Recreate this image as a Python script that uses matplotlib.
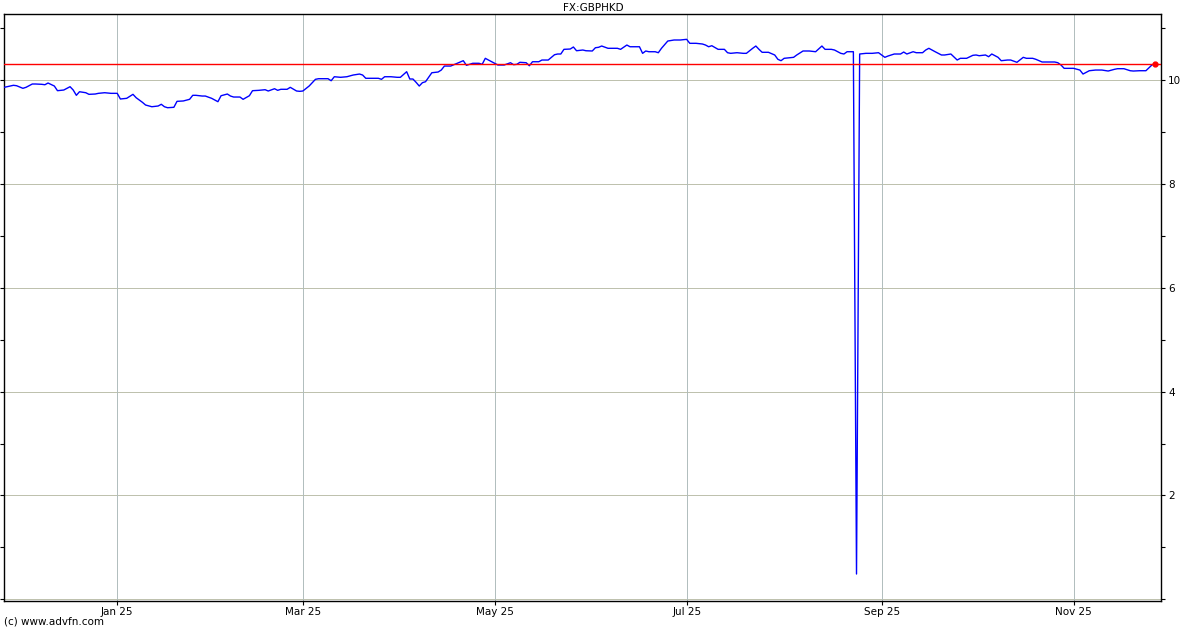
import matplotlib
matplotlib.use("Agg")
import matplotlib.pyplot as plt
import numpy as np
import pandas as pd

title = "FX:GBPHKD"
footer = "(c) www.advfn.com"

dates = [
    "2024-11-26", "2024-11-27", "2024-11-29", "2024-11-30", "2024-12-02", "2024-12-03", "2024-12-05",
    "2024-12-06", "2024-12-08", "2024-12-09", "2024-12-10", "2024-12-12", "2024-12-13", "2024-12-15",
    "2024-12-17", "2024-12-18", "2024-12-19", "2024-12-20", "2024-12-22", "2024-12-23", "2024-12-25",
    "2024-12-26", "2024-12-28", "2024-12-30", "2025-01-01", "2025-01-02", "2025-01-04", "2025-01-06",
    "2025-01-07", "2025-01-09", "2025-01-10", "2025-01-12", "2025-01-14", "2025-01-15", "2025-01-16",
    "2025-01-17", "2025-01-19", "2025-01-20", "2025-01-22", "2025-01-24", "2025-01-25", "2025-01-26",
    "2025-01-28", "2025-01-29", "2025-01-31", "2025-02-02", "2025-02-03", "2025-02-05", "2025-02-06",
    "2025-02-07", "2025-02-09", "2025-02-10", "2025-02-12", "2025-02-13", "2025-02-15", "2025-02-17",
    "2025-02-18", "2025-02-20", "2025-02-21", "2025-02-22", "2025-02-24", "2025-02-25", "2025-02-27",
    "2025-02-28", "2025-03-01", "2025-03-03", "2025-03-05", "2025-03-06", "2025-03-09", "2025-03-10",
    "2025-03-11", "2025-03-13", "2025-03-15", "2025-03-17", "2025-03-19", "2025-03-20", "2025-03-21",
    "2025-03-23", "2025-03-25", "2025-03-26", "2025-03-27", "2025-03-29", "2025-03-31", "2025-04-01",
    "2025-04-03", "2025-04-04", "2025-04-05", "2025-04-06", "2025-04-07", "2025-04-08", "2025-04-09",
    "2025-04-11", "2025-04-13", "2025-04-14", "2025-04-15", "2025-04-17", "2025-04-18", "2025-04-21",
    "2025-04-22", "2025-04-24", "2025-04-26", "2025-04-27", "2025-04-28", "2025-04-29", "2025-05-01",
    "2025-05-02", "2025-05-04", "2025-05-06", "2025-05-07", "2025-05-08", "2025-05-09", "2025-05-11",
    "2025-05-12", "2025-05-13", "2025-05-15", "2025-05-16", "2025-05-18", "2025-05-20", "2025-05-21",
    "2025-05-22", "2025-05-23", "2025-05-25", "2025-05-26", "2025-05-27", "2025-05-29", "2025-05-30",
    "2025-06-01", "2025-06-02", "2025-06-03", "2025-06-04", "2025-06-06", "2025-06-07", "2025-06-09",
    "2025-06-10", "2025-06-12", "2025-06-13", "2025-06-15", "2025-06-16", "2025-06-17", "2025-06-18",
    "2025-06-19", "2025-06-21", "2025-06-22", "2025-06-23", "2025-06-25", "2025-06-27", "2025-06-29",
    "2025-07-01", "2025-07-02", "2025-07-04", "2025-07-06", "2025-07-07", "2025-07-08", "2025-07-09",
    "2025-07-11", "2025-07-13", "2025-07-14", "2025-07-15", "2025-07-17", "2025-07-19", "2025-07-20",
    "2025-07-22", "2025-07-23", "2025-07-24", "2025-07-25", "2025-07-27", "2025-07-29", "2025-07-30",
    "2025-07-31", "2025-08-01", "2025-08-02", "2025-08-04", "2025-08-05", "2025-08-07", "2025-08-09",
    "2025-08-11", "2025-08-13", "2025-08-14", "2025-08-16", "2025-08-17", "2025-08-19", "2025-08-20",
    "2025-08-21", "2025-08-23", "2025-08-24", "2025-08-25", "2025-08-27", "2025-08-29", "2025-08-31",
    "2025-09-02", "2025-09-03", "2025-09-05", "2025-09-07", "2025-09-08", "2025-09-09", "2025-09-11",
    "2025-09-12", "2025-09-14", "2025-09-15", "2025-09-16", "2025-09-18", "2025-09-20", "2025-09-21",
    "2025-09-23", "2025-09-25", "2025-09-26", "2025-09-28", "2025-09-30", "2025-10-01", "2025-10-02",
    "2025-10-04", "2025-10-05", "2025-10-06", "2025-10-08", "2025-10-09", "2025-10-11", "2025-10-12",
    "2025-10-14", "2025-10-16", "2025-10-17", "2025-10-19", "2025-10-20", "2025-10-22", "2025-10-24",
    "2025-10-26", "2025-10-27", "2025-10-28", "2025-10-29", "2025-10-31", "2025-11-01", "2025-11-03",
    "2025-11-04", "2025-11-06", "2025-11-08", "2025-11-10", "2025-11-12", "2025-11-14", "2025-11-15",
    "2025-11-17", "2025-11-19", "2025-11-20", "2025-11-22", "2025-11-24", "2025-11-25", "2025-11-26",
    "2025-11-27",
]

rates = [
    9.865, 9.877, 9.904, 9.896, 9.846, 9.865, 9.929,
    9.929, 9.923, 9.915, 9.948, 9.890, 9.800, 9.813,
    9.877, 9.813, 9.711, 9.780, 9.761, 9.730, 9.736,
    9.749, 9.761, 9.749, 9.749, 9.640, 9.653, 9.730,
    9.665, 9.576, 9.524, 9.491, 9.505, 9.538, 9.491,
    9.472, 9.480, 9.595, 9.602, 9.634, 9.711, 9.711,
    9.697, 9.697, 9.653, 9.588, 9.703, 9.736, 9.697,
    9.678, 9.678, 9.634, 9.703, 9.800, 9.807, 9.819,
    9.794, 9.838, 9.807, 9.827, 9.827, 9.865, 9.794,
    9.788, 9.794, 9.890, 10.019, 10.031, 10.031, 9.992,
    10.069, 10.058, 10.069, 10.102, 10.121, 10.102, 10.039,
    10.039, 10.039, 10.019, 10.069, 10.069, 10.058, 10.058,
    10.166, 10.025, 10.025, 9.961, 9.890, 9.954, 9.973,
    10.146, 10.160, 10.198, 10.275, 10.275, 10.301, 10.378,
    10.289, 10.328, 10.328, 10.308, 10.424, 10.391, 10.328,
    10.295, 10.295, 10.339, 10.301, 10.308, 10.347, 10.339,
    10.281, 10.358, 10.358, 10.391, 10.391, 10.493, 10.507,
    10.507, 10.597, 10.603, 10.642, 10.570, 10.584, 10.570,
    10.565, 10.628, 10.636, 10.661, 10.617, 10.617, 10.617,
    10.597, 10.680, 10.647, 10.647, 10.647, 10.520, 10.565,
    10.551, 10.551, 10.532, 10.617, 10.757, 10.777, 10.777,
    10.790, 10.713, 10.713, 10.700, 10.680, 10.647, 10.667,
    10.597, 10.597, 10.532, 10.520, 10.532, 10.520, 10.520,
    10.617, 10.661, 10.597, 10.540, 10.540, 10.488, 10.405,
    10.378, 10.424, 10.430, 10.443, 10.488, 10.565, 10.565,
    10.551, 10.661, 10.597, 10.597, 10.584, 10.520, 10.507,
    10.551, 10.551, 0.486, 10.507, 10.520, 10.520, 10.532,
    10.443, 10.468, 10.507, 10.507, 10.545, 10.507, 10.551,
    10.532, 10.532, 10.584, 10.617, 10.551, 10.488, 10.488,
    10.507, 10.391, 10.424, 10.424, 10.482, 10.488, 10.474,
    10.488, 10.455, 10.507, 10.443, 10.378, 10.391, 10.391,
    10.347, 10.443, 10.424, 10.424, 10.405, 10.353, 10.353,
    10.353, 10.339, 10.295, 10.231, 10.231, 10.231, 10.198,
    10.121, 10.185, 10.198, 10.198, 10.179, 10.212, 10.224,
    10.224, 10.185, 10.179, 10.185, 10.185, 10.243, 10.301,
    10.310,
]

x_tick_dates = ["2025-01-01", "2025-03-01", "2025-05-01", "2025-07-01", "2025-09-01", "2025-11-01"]
x_tick_labels = ["Jan 25", "Mar 25", "May 25", "Jul 25", "Sep 25", "Nov 25"]
y_major = [0, 2, 4, 6, 8, 10]
y_labels = ["", "2", "4", "6", "8", "10"]
y_minor = [1, 3, 5, 7, 9, 11]

x = pd.to_datetime(dates)
y = np.array(rates)
last_value = y[-1]

plt.rcParams['font.family'] = ['DejaVu Sans']
fig = plt.figure(figsize=(12, 6.3), dpi=100)
ax = fig.add_axes([4 / 1200, 1 - 601 / 630, (1161 - 4) / 1200, (601 - 14) / 630])

ax.set_xlim(pd.Timestamp("2024-11-26 00:00"), pd.Timestamp("2025-11-28 19:00"))
ax.set_ylim(-0.034, 11.278)

# gridlines
for yy in y_major:
    ax.axhline(yy, color="#bcc0ac", lw=0.7, zorder=1)
for d in pd.to_datetime(x_tick_dates):
    ax.axvline(d, color="#b0bcbc", lw=0.7, zorder=1)

ax.plot(x, y, color="#0000ff", lw=1.0, zorder=3)
ax.axhline(last_value, color="#ff0000", lw=1.0, zorder=4)
ax.plot([x[-1]], [last_value], "o", color="#ff0000", ms=3.5, zorder=5)

ax.set_xticks(pd.to_datetime(x_tick_dates))
ax.set_xticklabels(x_tick_labels, fontsize=7.5)
ax.yaxis.tick_right()
ax.set_yticks(y_major)
ax.set_yticklabels(y_labels, fontsize=7.5)
ax.set_yticks(y_minor, minor=True)
ax.tick_params(axis="y", which="both", direction="out", length=3, width=0.8,
               right=True, left=True, labelright=True, labelleft=False, pad=2)
ax.tick_params(axis="x", which="both", direction="out", length=3, width=0.8, pad=1)
for s in ax.spines.values():
    s.set_linewidth(1.0)
    s.set_color("black")

fig.text(593 / 1200, 1 - 8 / 630, title, ha="center", va="center", fontsize=7.5)
fig.text(4 / 1200, 1 - 622 / 630, footer, ha="left", va="center", fontsize=7.5)

fig.savefig("out.png", dpi=100)
